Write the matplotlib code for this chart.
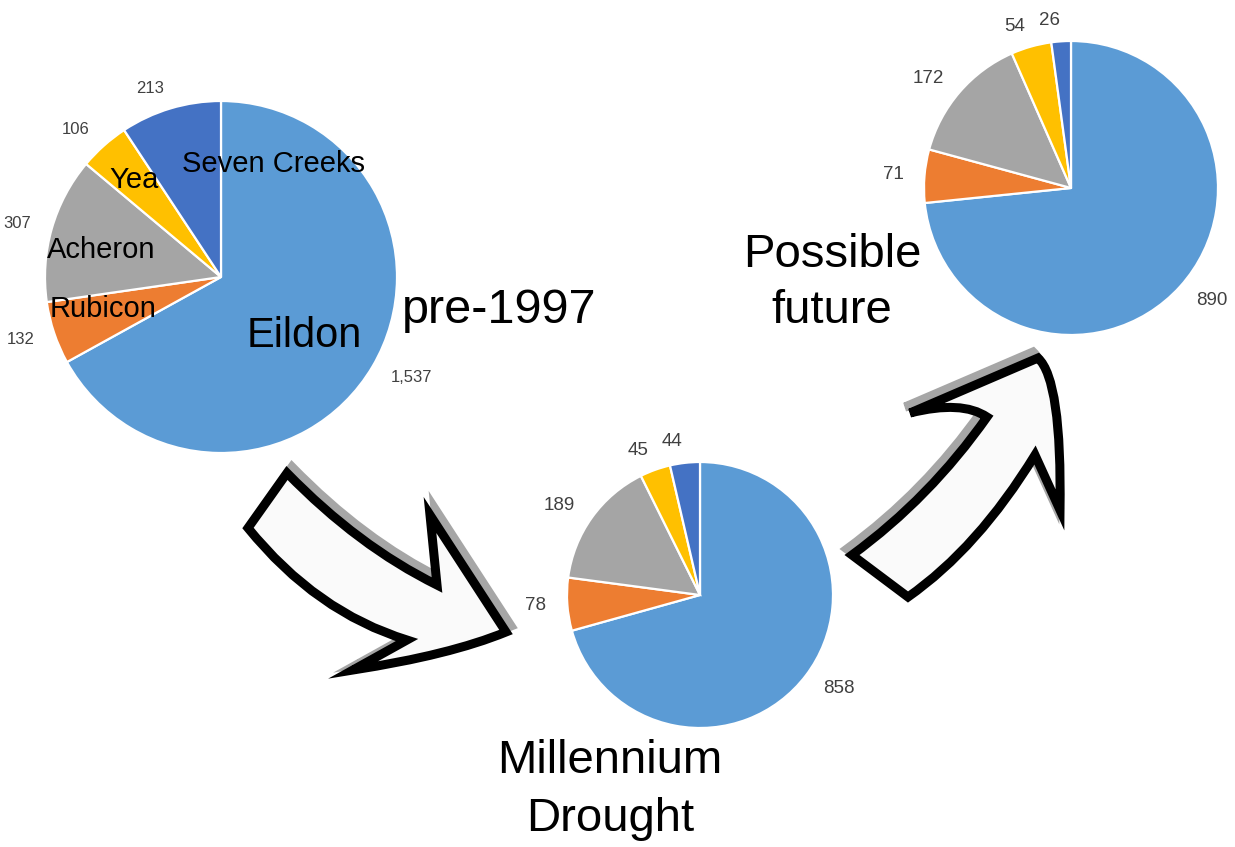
import matplotlib
matplotlib.use("Agg")
import matplotlib.pyplot as plt
from matplotlib.path import Path
from matplotlib.patches import PathPatch

# data
categories = ["Eildon", "Rubicon", "Acheron", "Yea", "Seven Creeks"]
pre_1997 = [1537, 132, 307, 106, 213]
drought = [858, 78, 189, 45, 44]
future = [890, 71, 172, 54, 26]
titles = ["pre-1997", "Millennium\nDrought", "Possible\nfuture"]

COLORS = ["#5B9BD5", "#ED7D31", "#A5A5A5", "#FFC000", "#4472C4"]
FONT = "Liberation Sans"
W, H = 1235, 847

fig = plt.figure(figsize=(W / 100, H / 100), dpi=100)
fig.patch.set_facecolor("white")

# background axes in pixel units (y down) for the arrows
bg = fig.add_axes([0, 0, 1, 1])
bg.set_xlim(0, W); bg.set_ylim(H, 0); bg.axis("off")


def arrow(verts, codes, shadow_off):
    dx, dy = shadow_off
    sh = Path([(x + dx, y + dy) for x, y in verts], codes)
    bg.add_patch(PathPatch(sh, facecolor="#A6A6A6", edgecolor="#A6A6A6", lw=6.5, joinstyle="miter"))
    bg.add_patch(PathPatch(Path(verts, codes), facecolor="#FAFAFA", edgecolor="black", lw=6.5, joinstyle="miter"))


M, L, C3, CL = Path.MOVETO, Path.LINETO, Path.CURVE3, Path.CLOSEPOLY
# arrow pre-1997 -> drought
arrow([(287, 473), (358, 546), (437, 585), (430, 515), (506, 632), (450, 655), (353, 670),
       (407, 640), (316, 612), (248, 528), (287, 473)],
      [M, C3, C3, L, L, C3, C3, L, C3, C3, CL], (5, -6))
# arrow drought -> future
arrow([(852, 555), (930, 498), (987, 417), (962, 400), (910, 413), (1038, 358), (1062, 380), (1060, 510),
       (1035, 455), (978, 548), (908, 597), (852, 555)],
      [M, C3, C3, C3, C3, L, C3, C3, L, C3, C3, CL], (-5, -6))


def draw_pie(values, cx, cy, r, fs, fmt="{:,}"):
    ax = fig.add_axes([(cx - r) / W, 1 - (cy + r) / H, 2 * r / W, 2 * r / H])
    ax.pie(values, colors=COLORS, startangle=90, counterclock=False, radius=1,
           labels=[fmt.format(v) for v in values], labeldistance=1 + 21 / r,
           wedgeprops=dict(edgecolor="white", linewidth=1.6),
           textprops=dict(fontsize=fs, color="#404040", family=FONT))
    ax.set_xlim(-1, 1); ax.set_ylim(-1, 1); ax.set_aspect("equal")
    return ax


draw_pie(pre_1997, 221, 277, 176, 12)
draw_pie(drought, 700, 595, 133, 13.5)
draw_pie(future, 1071, 188, 147, 13.5)


def ptext(x, y, s, fs, ha="center"):
    fig.text(x / W, 1 - y / H, s, fontsize=fs, family=FONT, color="black", ha=ha, va="baseline")


# category labels on the first pie
cat_pos = [(304, 347, 30), (103, 317, 21), (101, 258, 21), (134, 188, 21), (274, 172, 21)]
for name, (x, y, fs) in zip(categories, cat_pos):
    ptext(x, y, name, fs)

# period titles
ptext(499, 323, titles[0], 35)
for i, line in enumerate(titles[1].split("\n")):
    ptext(610, 773 + 58 * i, line, 34)
for i, line in enumerate(titles[2].split("\n")):
    ptext(832, 267 + 56 * i, line, 34)

fig.savefig("out.png", dpi=100, facecolor="white")
